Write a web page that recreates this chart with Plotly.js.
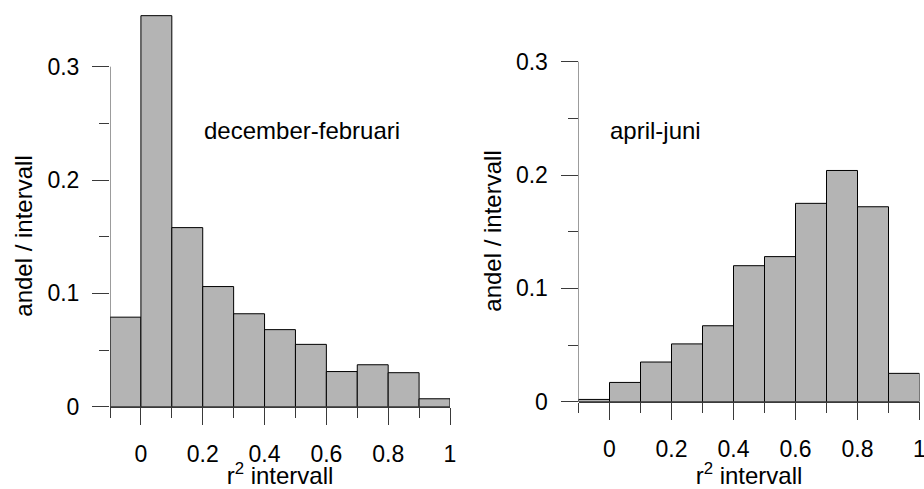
<!DOCTYPE html>
<html>
<head>
<meta charset="utf-8">
<script src="https://cdn.plot.ly/plotly-3.0.1.min.js"></script>
<style>
  html, body { margin: 0; padding: 0; background: #fff; }
  #chart { width: 924px; height: 489px; }
</style>
</head>
<body>
<div id="chart"></div>
<script>
// Lower edges of the r² bins (each bin is 0.1 wide)
const binLow = [-0.1, 0.0, 0.1, 0.2, 0.3, 0.4, 0.5, 0.6, 0.7, 0.8, 0.9];
const binWidth = 0.1;

// Share of cases per r² interval
const decFeb = [0.079, 0.345, 0.158, 0.106, 0.082, 0.068, 0.055, 0.031, 0.037, 0.030, 0.007];
const aprJun = [0.002, 0.017, 0.035, 0.051, 0.067, 0.120, 0.128, 0.175, 0.204, 0.172, 0.025];

// Axis ticks
const xMajorTicks = [0, 0.2, 0.4, 0.6, 0.8, 1];
const xMinorTicks = [-0.1, 0.1, 0.3, 0.5, 0.7, 0.9];
const yMajorTicks = [0, 0.1, 0.2, 0.3];
const yMinorTicks = [0.05, 0.15, 0.25];

const panelLabels = ['december-februari', 'april-juni'];
const xTitle = 'r<sup>2</sup> intervall';
const yTitle = 'andel / intervall';

const FONT = 'Liberation Sans, Arial, Helvetica, sans-serif';
const AXIS_COLOR = '#3a3a3a';
const xRange = [binLow[0], binLow[binLow.length - 1] + binWidth];

function barTrace(values, xa, ya) {
  return {
    type: 'bar',
    x: binLow,
    y: values,
    width: binWidth,
    offset: 0,
    xaxis: xa,
    yaxis: ya,
    marker: { color: 'rgb(180,180,180)', line: { color: '#000', width: 1 } },
    hoverinfo: 'x+y',
    showlegend: false
  };
}

function xAxis(domain, anchor) {
  return {
    domain: domain,
    anchor: anchor,
    range: xRange,
    showgrid: false,
    zeroline: false,
    showline: true,
    linecolor: AXIS_COLOR,
    linewidth: 1,
    tickmode: 'array',
    tickvals: xMajorTicks,
    ticktext: xMajorTicks.map(String),
    ticks: 'outside',
    ticklen: 17,
    tickwidth: 1,
    tickcolor: AXIS_COLOR,
    ticklabelstandoff: 10,
    ticklabeloverflow: 'allow',
    minor: { tickmode: 'array', tickvals: xMinorTicks, ticks: 'outside', ticklen: 10, tickwidth: 1, tickcolor: AXIS_COLOR, showgrid: false },
    tickfont: { family: FONT, size: 23, color: '#000' },
    title: { text: xTitle, font: { family: FONT, size: 24, color: '#000' }, standoff: 4 },
    automargin: false,
    fixedrange: true
  };
}

function yAxis(domain, anchor) {
  return {
    domain: domain,
    anchor: anchor,
    range: [0, 0.35],
    showgrid: false,
    zeroline: false,
    showline: false,
    tickmode: 'array',
    tickvals: yMajorTicks,
    ticktext: yMajorTicks.map(String),
    ticks: 'outside',
    ticklen: 17,
    tickwidth: 1,
    tickcolor: AXIS_COLOR,
    ticklabelstandoff: 8,
    minor: { tickmode: 'array', tickvals: yMinorTicks, ticks: 'outside', ticklen: 10, tickwidth: 1, tickcolor: AXIS_COLOR, showgrid: false },
    tickfont: { family: FONT, size: 23, color: '#000' },
    automargin: false,
    fixedrange: true
  };
}

// Vertical axis line spans only the labelled part of the axis
function yAxisLine(xa, ya) {
  return {
    type: 'line', xref: xa, yref: ya,
    x0: xRange[0], x1: xRange[0],
    y0: yMajorTicks[0], y1: yMajorTicks[yMajorTicks.length - 1],
    line: { color: AXIS_COLOR, width: 1 },
    layer: 'above'
  };
}

const W = 924, H = 489;
const data = [barTrace(decFeb, 'x', 'y'), barTrace(aprJun, 'x2', 'y2')];

const layout = {
  width: W,
  height: H,
  margin: { l: 0, r: 0, t: 0, b: 0 },
  paper_bgcolor: '#fff',
  plot_bgcolor: '#fff',
  font: { family: FONT, size: 24, color: '#000' },
  bargap: 0,
  xaxis: xAxis([110 / W, 450 / W], 'y'),
  yaxis: yAxis([1 - 406.7 / H, 1 - 10 / H], 'x'),
  xaxis2: xAxis([578.5 / W, 919.5 / W], 'y2'),
  yaxis2: yAxis([1 - 401.7 / H, 1 - 5 / H], 'x2'),
  shapes: [yAxisLine('x', 'y'), yAxisLine('x2', 'y2')],
  annotations: [
    { xref: 'x', yref: 'y', x: 0.198, y: 0.244, xanchor: 'left', yanchor: 'middle',
      text: panelLabels[0], showarrow: false, font: { family: FONT, size: 24, color: '#000' } },
    { xref: 'x2', yref: 'y2', x: -0.005, y: 0.239, xanchor: 'left', yanchor: 'middle',
      text: panelLabels[1], showarrow: false, font: { family: FONT, size: 24, color: '#000' } },
    { xref: 'paper', yref: 'paper', x: 24 / W, y: 1 - 236.7 / H, xanchor: 'center', yanchor: 'middle',
      textangle: -90, text: yTitle, showarrow: false, font: { family: FONT, size: 24, color: '#000' } },
    { xref: 'paper', yref: 'paper', x: 493 / W, y: 1 - 231.7 / H, xanchor: 'center', yanchor: 'middle',
      textangle: -90, text: yTitle, showarrow: false, font: { family: FONT, size: 24, color: '#000' } }
  ]
};

Plotly.newPlot('chart', data, layout, { displayModeBar: false, staticPlot: true });
</script>
</body>
</html>
